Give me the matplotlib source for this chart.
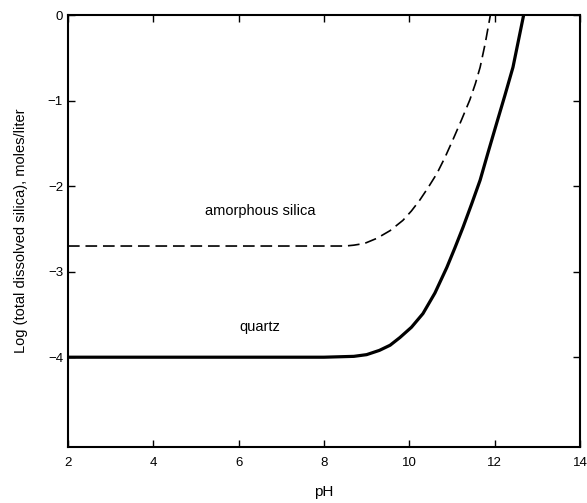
import numpy as np
import matplotlib.pyplot as plt

plt.rcParams['font.family'] = ['Liberation Sans', 'DejaVu Sans']

# curves: pH vs log(total dissolved silica)
ph_amorph = [2.0, 4.0, 6.0, 7.9, 8.5, 8.7, 8.95, 9.24, 9.55, 9.85, 10.05, 10.25, 10.45,
             10.65, 10.84, 11.02, 11.22, 11.42, 11.55, 11.66, 11.78, 11.9]
log_amorph = [-2.70, -2.70, -2.70, -2.70, -2.70, -2.69, -2.67, -2.61, -2.52, -2.40, -2.29, -2.16, -2.01,
              -1.85, -1.66, -1.46, -1.23, -0.99, -0.80, -0.61, -0.33, 0.0]

ph_quartz = [2.0, 4.0, 6.0, 8.0, 8.7, 9.0, 9.3, 9.55, 9.78, 10.05, 10.32, 10.6, 10.88, 11.07,
             11.26, 11.46, 11.66, 11.85, 12.05, 12.24, 12.43, 12.68]
log_quartz = [-4.0, -4.0, -4.0, -4.0, -3.99, -3.97, -3.92, -3.86, -3.77, -3.65, -3.49, -3.25, -2.95, -2.72,
              -2.48, -2.21, -1.93, -1.60, -1.26, -0.94, -0.61, 0.0]

xticks = [2, 4, 6, 8, 10, 12, 14]
yticks = [0, -1, -2, -3, -4]

fig = plt.figure(figsize=(5.87, 5.03), dpi=100)
ax = fig.add_axes([0.1158, 0.1113, 0.8722, 0.8587])

ax.plot(ph_amorph, log_amorph, color='black', linewidth=1.2, dashes=(7, 3.5))
ax.plot(ph_quartz, log_quartz, color='black', linewidth=2.3, solid_joinstyle='round')

ax.text(6.5, -2.29, 'amorphous silica', fontsize=10.5, ha='center', va='center')
ax.text(6.5, -3.65, 'quartz', fontsize=10.5, ha='center', va='center')

ax.set_xlim(2, 14)
ax.set_ylim(-5.05, 0)
ax.set_xticks(xticks)
ax.set_yticks(yticks)
ax.set_xticklabels([str(t) for t in xticks])
ax.set_yticklabels(['0' if t == 0 else '\u2212%d' % abs(t) for t in yticks])
ax.tick_params(direction='in', length=5, width=1, top=True, right=True, labelsize=9.5)
ax.tick_params(axis='x', pad=7)
for s in ax.spines.values():
    s.set_linewidth(1.5)

ax.set_xlabel('pH', fontsize=11, labelpad=12)
ax.set_ylabel('Log (total dissolved silica), moles/liter', fontsize=10.5, labelpad=14)

fig.savefig('out.png', dpi=100)
plt.close(fig)
